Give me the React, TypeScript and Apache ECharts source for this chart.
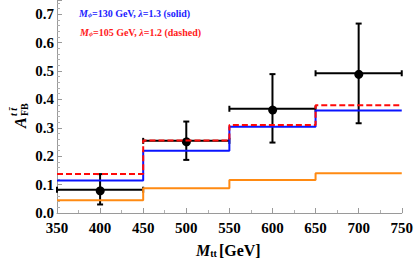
import React, { useEffect, useRef } from "react";
import * as echarts from "echarts";

const binEdges = [350, 450, 550, 650, 750];
const blueVals = [0.114, 0.219, 0.304, 0.361];
const redVals = [0.137, 0.255, 0.31, 0.379];
const orangeVals = [0.045, 0.087, 0.116, 0.14];

const dataX = [400, 500, 600, 700];
const dataY = [0.082, 0.254, 0.367, 0.492];
const yLow = [0.03, 0.187, 0.248, 0.316];
const yHigh = [0.137, 0.322, 0.489, 0.667];
const xLow = [350, 450, 550, 650];
const xHigh = [450, 550, 650, 750];

const xTicks = [350, 400, 450, 500, 550, 600, 650, 700, 750];

const SERIF = "'Liberation Serif', 'DejaVu Serif', serif";

function stepData(vals: number[]) {
  const d: number[][] = vals.map((v, i) => [binEdges[i], v]);
  d.push([binEdges[binEdges.length - 1], vals[vals.length - 1]]);
  return d;
}

function legendRich(color: string) {
  const base = { fontFamily: SERIF, fontWeight: "bold", fill: color, verticalAlign: "bottom" };
  return {
    m: { ...base, fontStyle: "italic", fontSize: 10, lineHeight: 12 },
    s: { ...base, fontStyle: "italic", fontSize: 7, lineHeight: 8 },
    n: { ...base, fontSize: 10, lineHeight: 12 },
    l: { ...base, fontStyle: "italic", fontSize: 10, lineHeight: 12 },
  };
}

export default function App() {
  const ref = useRef<HTMLDivElement>(null);
  useEffect(() => {
    if (!ref.current) return;
    const chart = echarts.init(ref.current, undefined, { renderer: "svg" });
    const errData = dataX.map((x, i) => [x, dataY[i], xLow[i], xHigh[i], yLow[i], yHigh[i]]);
    const option: any = {
      animation: false,
      backgroundColor: "#ffffff",
      grid: { left: 57, right: 14, top: 0, bottom: 55 },
      xAxis: {
        type: "value",
        min: xTicks[0],
        max: xTicks[xTicks.length - 1],
        interval: 50,
        axisLine: { show: true, lineStyle: { color: "#9a9a9a", width: 1 } },
        axisTick: { show: true, inside: true, length: 5, lineStyle: { color: "#9a9a9a" } },
        minorTick: { show: true, splitNumber: 2, length: 3, lineStyle: { color: "#b0b0b0" } },
        splitLine: { show: false },
        axisLabel: {
          color: "#000",
          fontFamily: SERIF,
          fontWeight: "bold",
          fontSize: 15,
          margin: 7,
        },
      },
      yAxis: {
        type: "value",
        min: 0,
        max: 0.75,
        interval: 0.1,
        axisLine: { show: true, lineStyle: { color: "#9a9a9a", width: 1 } },
        axisTick: { show: true, inside: true, length: 5, lineStyle: { color: "#9a9a9a" } },
        minorTick: { show: true, splitNumber: 5, length: 3, lineStyle: { color: "#b0b0b0" } },
        splitLine: { show: false },
        axisLabel: {
          color: "#000",
          fontFamily: SERIF,
          fontWeight: "bold",
          fontSize: 15,
          margin: 3,
          showMaxLabel: false,
          formatter: (v: number) => v.toFixed(1),
        },
      },
      series: [
        {
          type: "custom",
          z: 2,
          data: errData,
          encode: { x: [0, 2, 3], y: [1, 4, 5] },
          renderItem: (params: any, api: any) => {
            const c = api.coord([api.value(0), api.value(1)]);
            const l = api.coord([api.value(2), api.value(1)]);
            const r = api.coord([api.value(3), api.value(1)]);
            const lo = api.coord([api.value(0), api.value(4)]);
            const hi = api.coord([api.value(0), api.value(5)]);
            const st = { stroke: "#000", lineWidth: 2 };
            const cap = 3;
            return {
              type: "group",
              children: [
                { type: "line", shape: { x1: l[0], y1: c[1], x2: r[0], y2: c[1] }, style: st },
                { type: "line", shape: { x1: c[0], y1: lo[1], x2: c[0], y2: hi[1] }, style: st },
                { type: "line", shape: { x1: l[0], y1: c[1] - cap, x2: l[0], y2: c[1] + cap }, style: st },
                { type: "line", shape: { x1: r[0], y1: c[1] - cap, x2: r[0], y2: c[1] + cap }, style: st },
                { type: "line", shape: { x1: c[0] - cap, y1: lo[1], x2: c[0] + cap, y2: lo[1] }, style: st },
                { type: "line", shape: { x1: c[0] - cap, y1: hi[1], x2: c[0] + cap, y2: hi[1] }, style: st },
                { type: "circle", shape: { cx: c[0], cy: c[1], r: 4.5 }, style: { fill: "#000" } },
              ],
            };
          },
        },
        {
          type: "line",
          z: 3,
          step: "end",
          symbol: "none",
          data: stepData(orangeVals),
          lineStyle: { color: "#ff8a12", width: 2 },
        },
        {
          type: "line",
          z: 3,
          step: "end",
          symbol: "none",
          data: stepData(blueVals),
          lineStyle: { color: "#0a14ff", width: 2 },
        },
        {
          type: "line",
          z: 4,
          step: "end",
          symbol: "none",
          data: stepData(redVals),
          lineStyle: { color: "#ff0a0a", width: 2, type: [6, 3] },
        },
      ],
      graphic: [
        {
          type: "text",
          left: 79,
          top: 8,
          style: {
            text: "{m|M}{s|ϕ}{n|=130 GeV, }{l|λ}{n|=1.3 (solid)}",
            fill: "#2222ff",
            rich: legendRich("#2222ff"),
          },
        },
        {
          type: "text",
          left: 80,
          top: 27,
          style: {
            text: "{m|M}{s|ϕ}{n|=105 GeV, }{l|λ}{n|=1.2 (dashed)}",
            fill: "#ff1a1a",
            rich: legendRich("#ff1a1a"),
          },
        },
        {
          type: "group",
          x: 20,
          y: 128,
          rotation: Math.PI / 2,
          children: [
            {
              type: "text",
              x: 0,
              y: 0,
              style: {
                text: "A",
                font: `italic bold 16px ${SERIF}`,
                fill: "#000",
                textAlign: "left",
                textVerticalAlign: "middle",
              },
            },
            {
              type: "text",
              x: 12,
              y: 4,
              style: {
                text: "FB",
                font: `bold 10px ${SERIF}`,
                fill: "#000",
                textAlign: "left",
                textVerticalAlign: "middle",
              },
            },
            {
              type: "text",
              x: 12,
              y: -7,
              style: {
                text: "t t\u0304",
                font: `italic bold 10px ${SERIF}`,
                fill: "#000",
                textAlign: "left",
                textVerticalAlign: "middle",
              },
            },
          ],
        },
        {
          type: "text",
          left: 196,
          top: 242,
          style: {
            text: "{m|M}{s|tt}{n|[GeV]}",
            rich: {
              m: { fontFamily: SERIF, fontWeight: "bold", fontStyle: "italic", fontSize: 16, fill: "#000", lineHeight: 18, verticalAlign: "bottom" },
              s: { fontFamily: SERIF, fontWeight: "bold", fontSize: 10, fill: "#000", lineHeight: 11, verticalAlign: "bottom", padding: [0, 2, 0, 0] },
              n: { fontFamily: SERIF, fontWeight: "bold", fontSize: 16, fill: "#000", lineHeight: 18, verticalAlign: "bottom" },
            },
          },
        },
      ],
    };
    chart.setOption(option);
    return () => chart.dispose();
  }, []);
  return (
    <div
      ref={ref}
      style={{ position: "fixed", left: 0, top: 0, width: 416, height: 268 }}
    />
  );
}
